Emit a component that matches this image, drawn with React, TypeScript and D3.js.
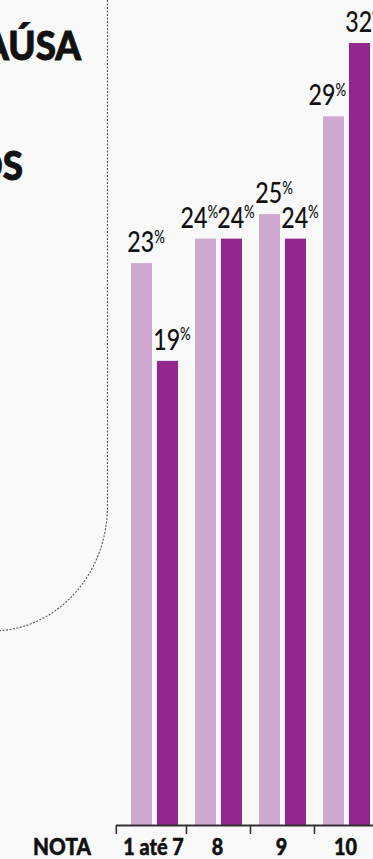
import React from "react";
import * as d3 from "d3";

// Rating groups and the share of answers in each, for the two series
const categories = ["1 até 7", "8", "9", "10"];
const seriesKeys = ["anterior", "atual"];
const valuesAnterior = [23, 24, 25, 29];
const valuesAtual = [19, 24, 24, 32];
const axisTitle = "NOTA";
const headingLines = ["AÚSA", "OS"];

const W = 373;
const H = 859;
const BG = "#f9f9f9";
const LIGHT = "#cfa9d1";
const DARK = "#92278f";
const INK = "#111";

const baseY = 825.5;
const topY = 43;

export default function App() {
  const x = d3.scaleBand<string>().domain(categories).range([122.5, 378.5]);
  const xs = d3.scaleBand<string>().domain(seriesKeys).range([8.5, 55.5]).paddingInner(0.19);
  const y = d3.scaleLinear().domain([0, 32]).range([baseY, topY]);

  const rows = categories.map((c, i) => ({
    cat: c,
    vals: [valuesAnterior[i], valuesAtual[i]],
  }));

  const fontBody = "Lato, 'Open Sans', sans-serif";

  // Value label: large number with a small raised percent sign
  const label = (key: string, v: number, bx: number, bw: number, anchor: "middle" | "end") => {
    const lx = anchor === "middle" ? bx + bw / 2 + 4.5 : bx + bw + 2;
    return (
      <g key={key} transform={`translate(${lx},${y(v) - 11}) scale(0.8,1)`}>
        <text textAnchor={anchor} fontFamily={fontBody} fontWeight={500} fill={INK}>
          <tspan fontSize={29}>{v}</tspan>
          <tspan fontSize={16.5} dy={-9.5}>%</tspan>
        </text>
      </g>
    );
  };

  // Dotted divider on the left, ending in a rounded corner
  const ellipse = (t: number): [number, number] => [-7.5 + 115 * Math.cos(t), 506 + 125 * Math.sin(t)];
  const arcPts = d3.range(0, 41).map((i) => ellipse((i / 40) * (Math.PI / 2)));
  const dividerPath = `M107.5,0 L107.5,506 ` + d3.line()(arcPts)!.replace(/^M/, "L");

  return (
    <svg
      width={W}
      height={H}
      viewBox={`0 0 ${W} ${H}`}
      style={{ position: "absolute", left: 0, top: 0, display: "block" }}
    >
      <rect x={0} y={0} width={W} height={H} fill={BG} />

      <path d={dividerPath} fill="none" stroke="#555" strokeWidth={1.1} strokeDasharray="2,1.5" />

      {headingLines.map((t, i) => (
        <g key={t} transform={`translate(${i === 0 ? 81 : 23},${i === 0 ? 60 : 180}) scale(0.94,1)`}>
          <text
            textAnchor="end"
            fontFamily={fontBody}
            fontWeight={900}
            fontSize={39}
            fill={INK}
            stroke={INK}
            strokeWidth={0.9}
          >
            {t}
          </text>
        </g>
      ))}

      {rows.map((r) => {
        const gx = x(r.cat)!;
        return (
          <g key={r.cat}>
            {r.vals.map((v, j) => (
              <rect
                key={seriesKeys[j]}
                x={gx + xs(seriesKeys[j])!}
                y={y(v)}
                width={xs.bandwidth()}
                height={baseY - y(v)}
                fill={j === 0 ? LIGHT : DARK}
              />
            ))}
          </g>
        );
      })}

      {rows.map((r) => {
        const gx = x(r.cat)!;
        const bw = xs.bandwidth();
        const [a, b] = r.vals;
        const ax = gx + xs(seriesKeys[0])!;
        const bx = gx + xs(seriesKeys[1])!;
        // push the first label left when the neighbouring bar is as tall or taller
        const aAnchor = b >= a ? "end" : "middle";
        return (
          <g key={r.cat + "-lbl"}>
            {label("a", a, ax, bw, aAnchor)}
            {label("b", b, bx, bw, "middle")}
          </g>
        );
      })}

      {/* category axis */}
      <line x1={116} x2={W} y1={baseY} y2={baseY} stroke="#333" strokeWidth={2} />
      {categories.map((c, i) => {
        const tx = i === 0 ? 116.3 : x(c)!;
        return <line key={c} x1={tx} x2={tx} y1={baseY} y2={834} stroke="#333" strokeWidth={1.6} />;
      })}
      {categories.map((c) => (
        <g key={c + "-t"} transform={`translate(${x(c)! + x.bandwidth() / 2 - 1},855) scale(0.88,1)`}>
          <text
            textAnchor="middle"
            fontFamily={fontBody}
            fontWeight={900}
            fontSize={22.5}
            fill={INK}
            stroke={INK}
            strokeWidth={0.5}
          >
            {c}
          </text>
        </g>
      ))}
      <g transform="translate(62,855) scale(0.92,1)">
        <text
          textAnchor="middle"
          fontFamily={fontBody}
          fontWeight={900}
          fontSize={22.5}
          fill={INK}
          stroke={INK}
          strokeWidth={0.5}
        >
          {axisTitle}
        </text>
      </g>
    </svg>
  );
}
